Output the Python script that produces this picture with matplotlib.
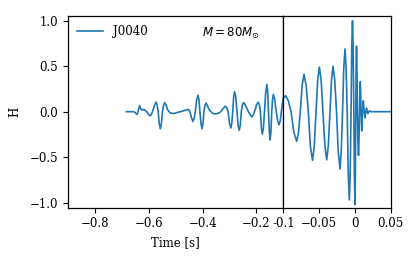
import matplotlib
matplotlib.use("Agg")
import matplotlib.pyplot as plt

plt.rcParams['font.family'] = ['DejaVu Serif']
plt.rcParams['mathtext.fontset'] = 'dejavusans'

# waveform samples (time [s], strain H)
time = [
    -0.683, -0.655, -0.649, -0.643, -0.638, -0.634, -0.630, -0.626, -0.619, -0.612,
    -0.606, -0.600, -0.594, -0.589, -0.584, -0.5775, -0.573, -0.569, -0.565, -0.561,
    -0.557, -0.553, -0.549, -0.545, -0.541, -0.536, -0.530, -0.520, -0.507, -0.490,
    -0.476, -0.460, -0.452, -0.447, -0.442, -0.436, -0.431, -0.427, -0.422, -0.417,
    -0.4135, -0.410, -0.406, -0.402, -0.3985, -0.395, -0.391, -0.387, -0.382, -0.376,
    -0.371, -0.362, -0.353, -0.344, -0.334, -0.325, -0.316, -0.310, -0.305, -0.300,
    -0.295, -0.2915, -0.288, -0.2845, -0.281, -0.2765, -0.272, -0.268, -0.264, -0.260,
    -0.256, -0.252, -0.248, -0.242, -0.236, -0.226, -0.217, -0.211, -0.205, -0.199,
    -0.193, -0.189, -0.185, -0.1815, -0.178, -0.174, -0.170, -0.1655, -0.161, -0.158,
    -0.155, -0.152, -0.149, -0.146, -0.143, -0.140, -0.137, -0.132, -0.1265, -0.121,
    -0.116, -0.1115, -0.1074, -0.1000,
    -0.0966, -0.0930, -0.0892, -0.0852, -0.0813, -0.0788, -0.0763, -0.0737, -0.0711,
    -0.0681, -0.0651, -0.0622, -0.0592, -0.0568, -0.0543, -0.0520, -0.0497, -0.0472,
    -0.0446, -0.0420, -0.0394, -0.0371, -0.0348, -0.0327, -0.0306, -0.0282, -0.0257,
    -0.0233, -0.0208, -0.0191, -0.0173, -0.0156, -0.0138, -0.0123, -0.0108, -0.0093,
    -0.0078, -0.0066, -0.0054, -0.0044, -0.0034, -0.0025, -0.0015, -0.0007, 0.0001,
    0.0006, 0.0012, 0.0017, 0.0022, 0.0028, 0.0035, 0.0043, 0.0050, 0.0056, 0.0063,
    0.0069, 0.0075, 0.0080, 0.0085, 0.0095, 0.0106, 0.0117, 0.0129, 0.0141, 0.0152,
    0.0162, 0.0172, 0.0183, 0.0195, 0.0205, 0.0220, 0.0500,
]
strain = [
    0.0, 0.0, -0.015, -0.03, 0.02, 0.066, 0.035, 0.018, 0.025, 0.012,
    -0.005, -0.035, -0.045, -0.02, 0.02, 0.08, 0.105, 0.075, 0.0, -0.13,
    -0.187, -0.13, 0.0, 0.07, 0.10, 0.075, 0.02, -0.015, -0.02, -0.005,
    0.005, 0.02, 0.025, 0.0, -0.06, -0.107, -0.07, 0.0, 0.13, 0.18,
    0.13, 0.0, -0.13, -0.187, -0.13, 0.0, 0.07, 0.095, 0.065, 0.025,
    0.005, -0.018, -0.025, -0.02, -0.005, 0.03, 0.06, 0.045, 0.0, -0.13,
    -0.18, -0.13, 0.0, 0.16, 0.22, 0.16, 0.0, -0.15, -0.205, -0.15,
    0.0, 0.075, 0.10, 0.08, 0.04, -0.02, -0.058, -0.03, 0.02, 0.08,
    0.105, 0.075, 0.0, -0.18, -0.245, -0.18, 0.0, 0.21, 0.30, 0.21,
    0.0, -0.22, -0.31, -0.22, 0.0, 0.135, 0.19, 0.135, 0.0, -0.10,
    -0.143, -0.10, 0.0, 0.15,
    0.175, 0.12, 0.0, -0.23, -0.325, -0.23, 0.0, 0.29, 0.41,
    0.29, 0.0, -0.38, -0.535, -0.38, 0.0, 0.35, 0.49, 0.35,
    0.0, -0.37, -0.53, -0.37, 0.0, 0.35, 0.50, 0.35, 0.0,
    -0.44, -0.63, -0.44, 0.0, 0.48, 0.69, 0.48, 0.0, -0.68,
    -0.97, -0.68, 0.0, 0.70, 1.0, 0.70, 0.0, -0.72, -1.02,
    -0.72, 0.0, 0.50, 0.72, 0.50, 0.0, -0.34, -0.48, -0.34, 0.0,
    0.23, 0.33, 0.23, 0.0, -0.21, 0.0, 0.12, 0.0, -0.07, 0.0,
    0.04, 0.0, -0.02, 0.0, 0.01, 0.0, 0.0,
]

left_ticks = [-0.8, -0.6, -0.4, -0.2]
left_labels = ['\u22120.8', '\u22120.6', '\u22120.4', '\u22120.2']
right_ticks = [-0.1, -0.05, 0.0, 0.05]
right_labels = ['-0.1', '\u22120.05', '0', '0.05']
y_ticks = [-1.0, -0.5, 0.0, 0.5, 1.0]
y_labels = ['\u22121.0', '\u22120.5', '0.0', '0.5', '1.0']

series_name = 'J0040'
annotation = r'$M=80M_{\odot}$'

fig = plt.figure(figsize=(4.15, 2.59), dpi=100)
axL = fig.add_axes([0.1639, 0.1981, 0.5188, 0.7413])
axR = fig.add_axes([0.6827, 0.1981, 0.2588, 0.7413], sharey=axL)

fs = 8.5
for ax in (axL, axR):
    ax.plot(time, strain, color='#1f77b4', lw=1.2, label=series_name)
    for s in ax.spines.values():
        s.set_color('black')
        s.set_linewidth(0.9)
    ax.tick_params(axis='both', direction='out', length=3.5, width=0.8,
                   labelsize=fs, top=False, right=False)

axL.set_xlim(-0.9, -0.1)
axR.set_xlim(-0.1, 0.05)
axL.set_ylim(-1.055, 1.055)
axL.set_xticks(left_ticks)
axL.set_xticklabels(left_labels)
axR.set_xticks(right_ticks)
axR.set_xticklabels(right_labels)
axL.set_yticks(y_ticks)
axL.set_yticklabels(y_labels)
axR.tick_params(axis='y', left=False, labelleft=False)

axL.set_xlabel('Time [s]', fontsize=fs, labelpad=4)
axL.set_ylabel('H', fontsize=fs, labelpad=6)

axL.legend(loc='upper left', frameon=False, fontsize=fs,
           handlelength=2.2, borderaxespad=0.4)
axL.text(0.62, 0.905, annotation, transform=axL.transAxes,
         fontsize=fs, ha='left', va='center')

fig.savefig('out.png', dpi=100)
